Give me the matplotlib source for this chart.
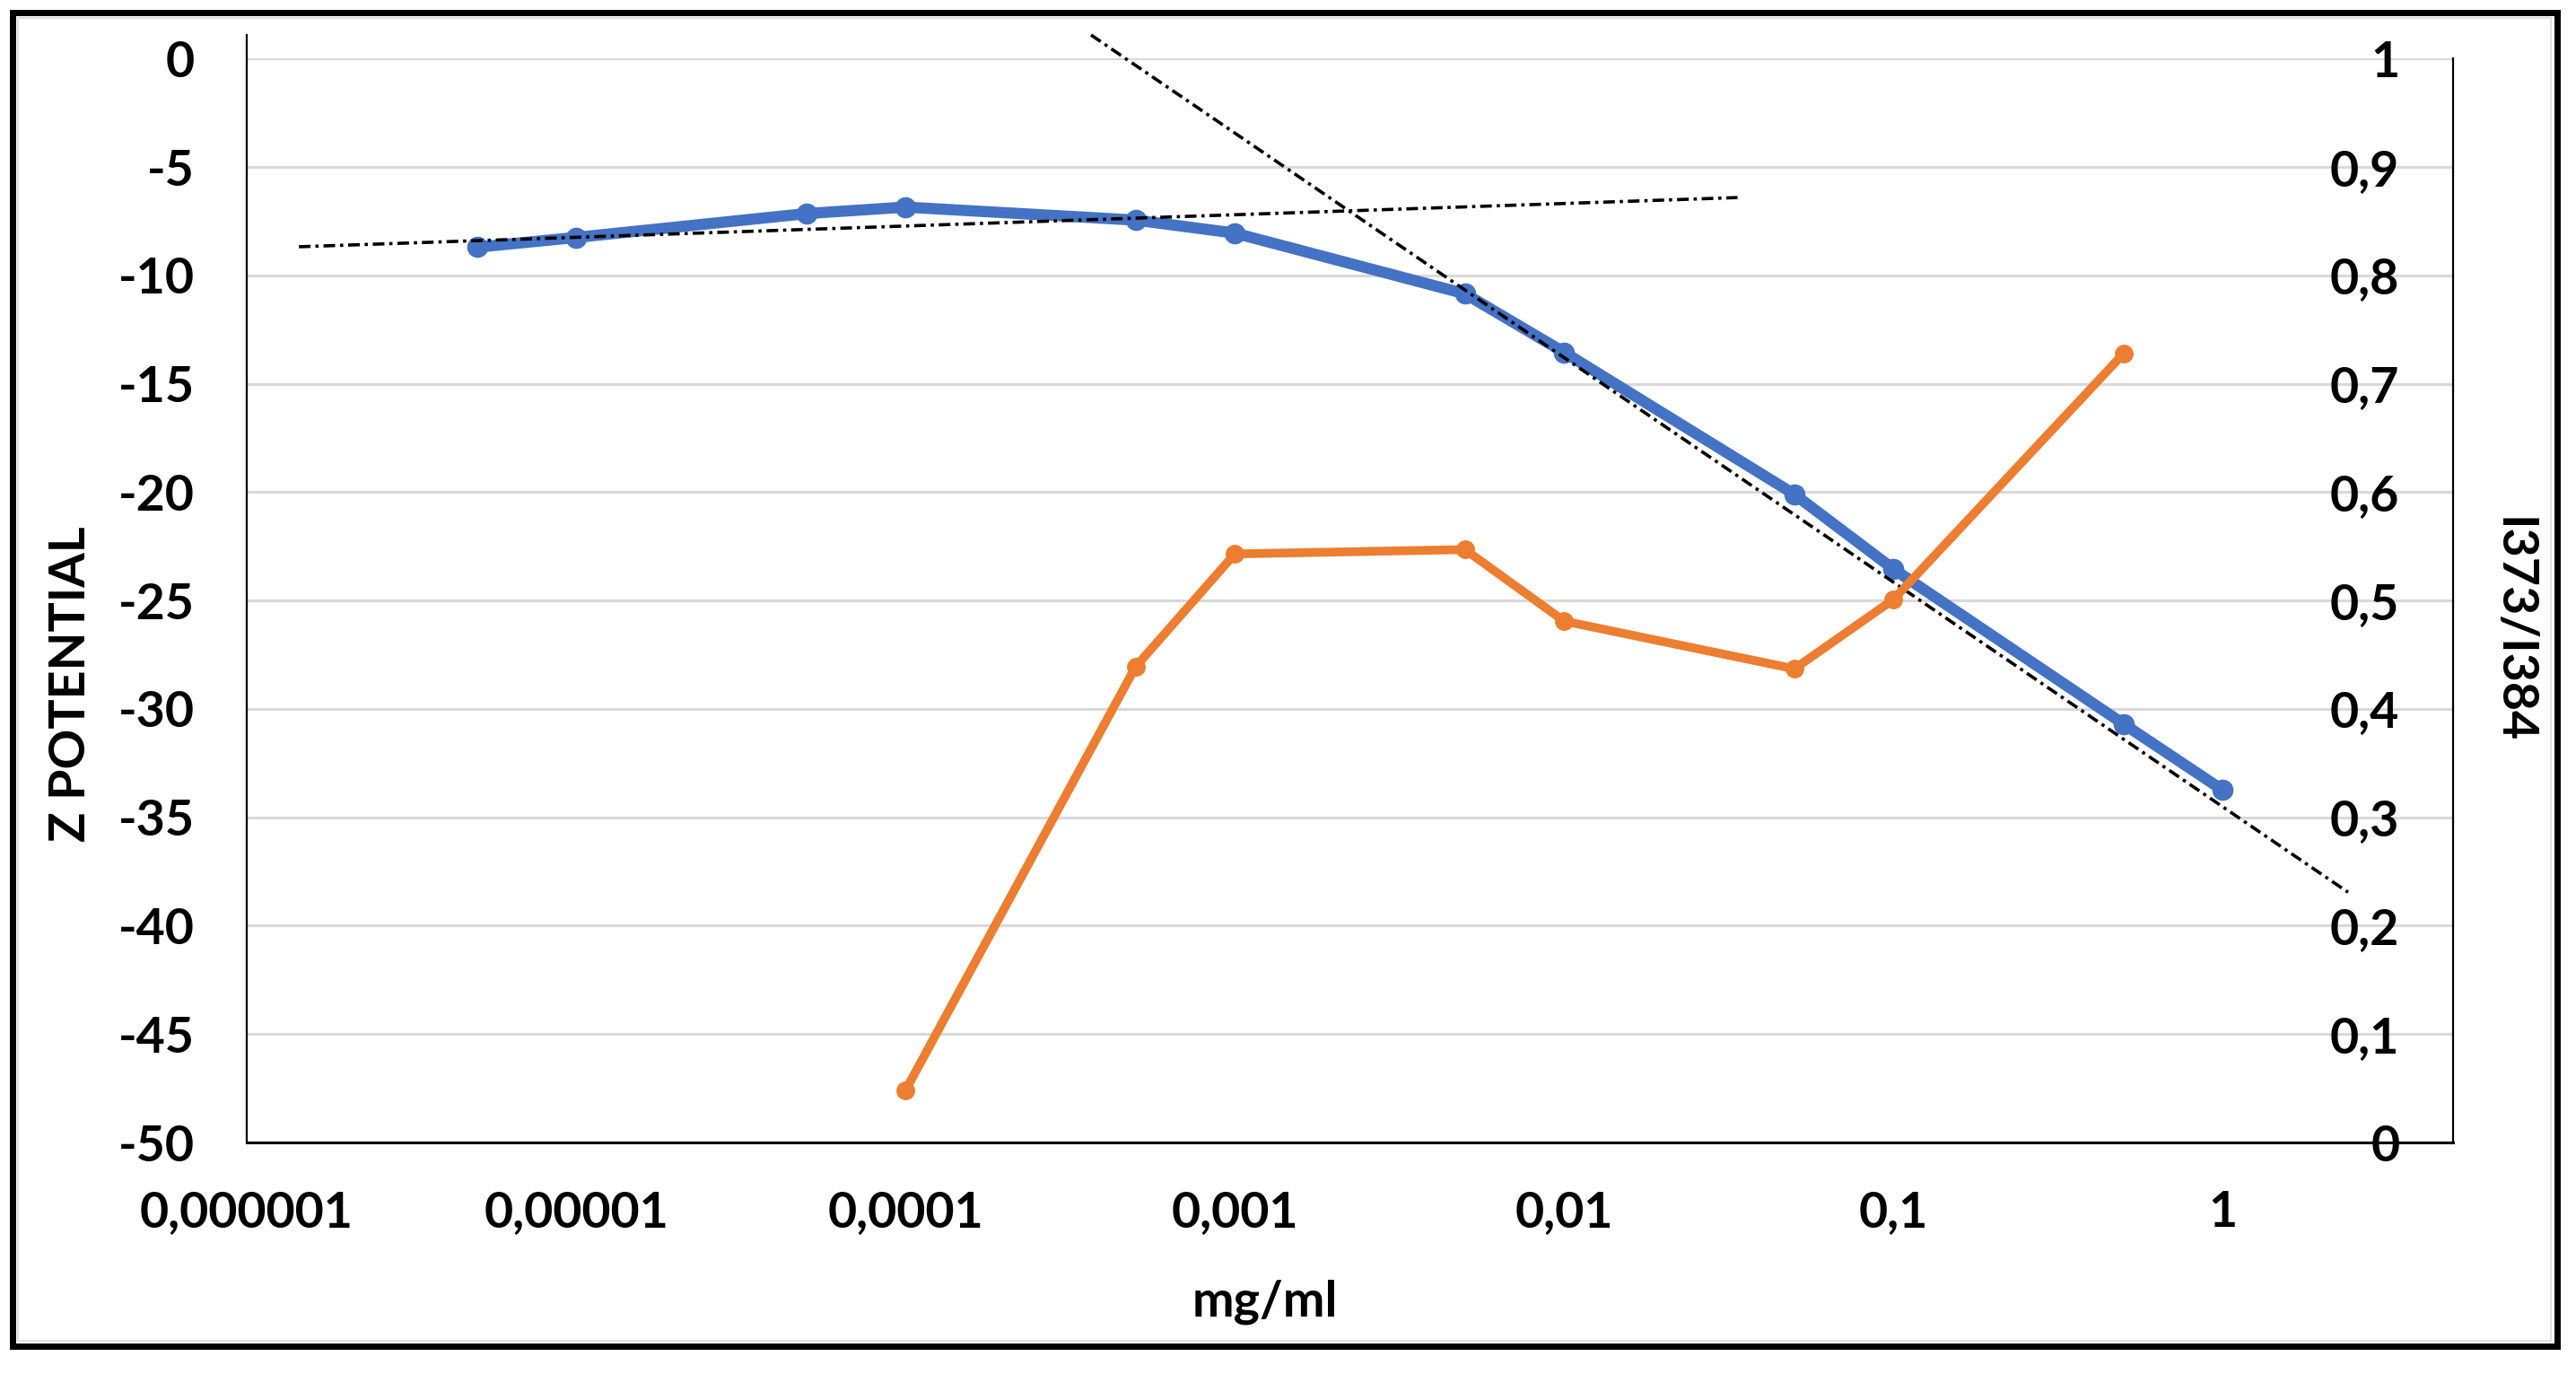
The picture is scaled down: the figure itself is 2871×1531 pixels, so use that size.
import matplotlib
matplotlib.use('Agg')
import matplotlib.pyplot as plt
from matplotlib.patches import Rectangle
from matplotlib.ticker import FixedLocator, NullLocator

# Z potential (left axis)
conc_z = [5e-6, 1e-5, 5e-5, 1e-4, 5e-4, 1e-3, 5e-3, 1e-2, 5e-2, 1e-1, 5e-1, 1.0]
z_potential = [-8.7, -8.25, -7.15, -6.85, -7.45, -8.05, -10.85, -13.55, -20.1, -23.55, -30.7, -33.75]

# I373/I384 ratio (right axis)
conc_ratio = [1e-4, 5e-4, 1e-3, 5e-3, 1e-2, 5e-2, 1e-1, 5e-1]
ratio = [0.048, 0.439, 0.543, 0.547, 0.481, 0.437, 0.501, 0.728]

# hand drawn trend lines (end points)
fit_low_x = [1.44e-6, 0.0336]
fit_low_y = [-8.68, -6.41]
fit_high_x = [3.66e-4, 2.40]
fit_high_y = [1.09, -38.46]

x_ticks = [1e-6, 1e-5, 1e-4, 1e-3, 1e-2, 1e-1, 1.0]
x_tick_labels = ['0,000001', '0,00001', '0,0001', '0,001', '0,01', '0,1', '1']
z_ticks = [0, -5, -10, -15, -20, -25, -30, -35, -40, -45, -50]
z_tick_labels = ['0', '-5', '-10', '-15', '-20', '-25', '-30', '-35', '-40', '-45', '-50']
ratio_ticks = [0, 0.1, 0.2, 0.3, 0.4, 0.5, 0.6, 0.7, 0.8, 0.9, 1.0]
ratio_tick_labels = ['0', '0,1', '0,2', '0,3', '0,4', '0,5', '0,6', '0,7', '0,8', '0,9', '1']

blue = '#4472C4'
orange = '#ED7D31'
fontsize = 40

plt.rcParams['font.family'] = ['Lato', 'DejaVu Sans']
plt.rcParams['font.weight'] = 'bold'

W, H = 2871, 1531
fig = plt.figure(figsize=(W / 100, H / 100), dpi=100)
ax = fig.add_axes([275 / W, 1 - 1273 / H, (2734 - 275) / W, (1273 - 65.3) / H])
ax2 = ax.twinx()

# left axis: Z potential
ax.set_xscale('log')
ax.set_xlim(1e-6, 5)
ax.set_ylim(-50, 0)
ax.xaxis.set_major_locator(FixedLocator(x_ticks))
ax.xaxis.set_minor_locator(NullLocator())
ax.set_xticklabels(x_tick_labels)
ax.yaxis.set_major_locator(FixedLocator(z_ticks))
ax.set_yticklabels(z_tick_labels)
ax.tick_params(axis='x', length=0, pad=38, labelsize=fontsize)
ax.tick_params(axis='y', length=0, pad=42, labelsize=fontsize)
ax.yaxis.grid(True, color='#d9d9d9', linewidth=2.2)
ax.set_axisbelow(True)

ax.plot(conc_z, z_potential, color=blue, linewidth=9, marker='o', markersize=16,
        solid_capstyle='round', solid_joinstyle='round', zorder=3)
ax.plot(fit_low_x, fit_low_y, color='black', linewidth=2.6, dashes=(3.6, 1.5, 1, 1.5), zorder=4)
ax.plot(fit_high_x, fit_high_y, color='black', linewidth=2.6, dashes=(3.6, 1.5, 1, 1.5),
        zorder=4, clip_on=False)

for side in ['top', 'right']:
    ax.spines[side].set_visible(False)
ax.spines['left'].set_linewidth(1.6)
ax.spines['bottom'].set_linewidth(2.2)
ax.spines['left'].set_bounds(-50, 1.1)

# right axis: I373/I384
ax2.set_ylim(0, 1)
ax2.yaxis.set_major_locator(FixedLocator(ratio_ticks))
ax2.set_yticklabels(ratio_tick_labels)
ax2.tick_params(axis='y', length=0, pad=-43, labelsize=fontsize)
for lbl in ax2.get_yticklabels():
    lbl.set_horizontalalignment('right')
ax2.plot(conc_ratio, ratio, color=orange, linewidth=7, marker='o', markersize=14,
         solid_capstyle='round', solid_joinstyle='round', zorder=3)
for side in ['top', 'left', 'bottom']:
    ax2.spines[side].set_visible(False)
ax2.spines['right'].set_linewidth(1.6)

# axis titles
fig.text(79 / W, 1 - 762 / H, 'Z POTENTIAL', rotation=90, ha='center', va='center',
         fontsize=fontsize, fontweight='bold')
fig.text(1410 / W, 1 - 1451 / H, 'mg/ml', ha='center', va='center',
         fontsize=fontsize, fontweight='bold')
fig.text(2801 / W, 1 - 702 / H, 'I373/I384', rotation=270, ha='center', va='center',
         fontsize=fontsize, fontweight='bold')

# chart frame
fig.add_artist(Rectangle((20 / W, 1 - 1494 / H), 2823 / W, 1474 / H, transform=fig.transFigure,
                         fill=False, edgecolor='#d9d9d9', linewidth=1.2))
fig.add_artist(Rectangle((13.5 / W, 1 - 1500 / H), 2836.5 / W, 1486.5 / H, transform=fig.transFigure,
                         fill=False, edgecolor='black', linewidth=5))

fig.savefig('out.png', dpi=100, facecolor='white')
